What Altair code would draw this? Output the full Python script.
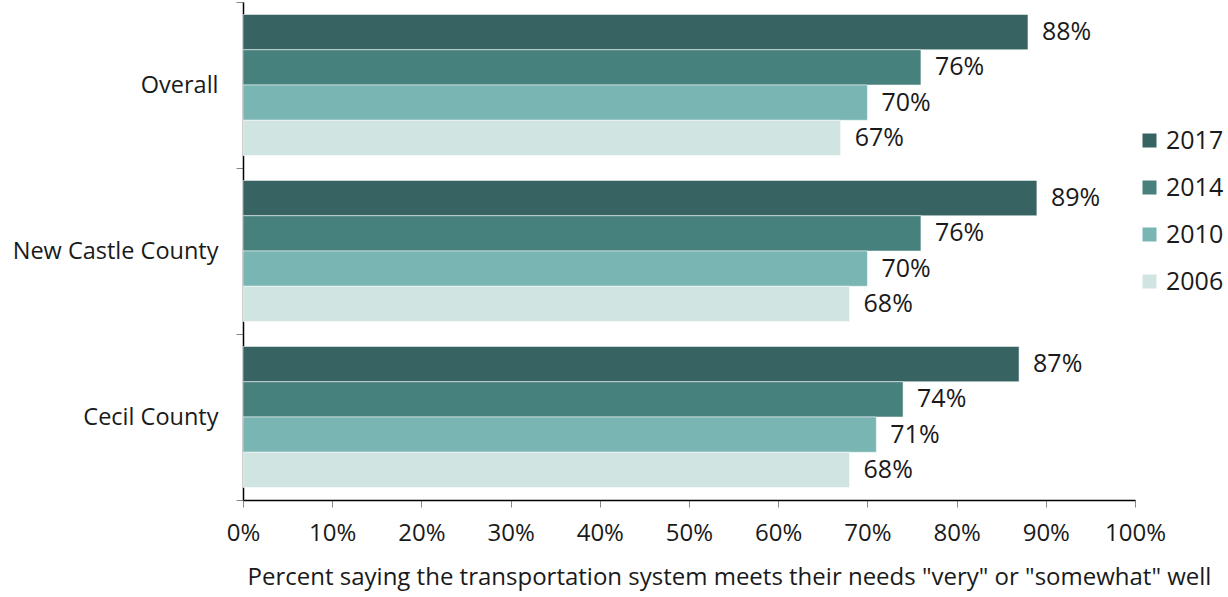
import altair as alt
import pandas as pd

categories = ["Overall", "New Castle County", "Cecil County"]
years = ["2017", "2014", "2010", "2006"]
values = {
    "Overall": [88, 76, 70, 67],
    "New Castle County": [89, 76, 70, 68],
    "Cecil County": [87, 74, 71, 68],
}
colors = ["#376462", "#47817e", "#78b5b3", "#d0e4e2"]

rows = []
for c in categories:
    for y, v in zip(years, values[c]):
        rows.append({"area": c, "year": y, "value": v, "label": f"{v}%"})
df = pd.DataFrame(rows)

FONT = "Open Sans"
TXT = "#1a1a1a"

base = alt.Chart(df).encode(
    y=alt.Y("area:N", sort=categories,
            scale=alt.Scale(paddingInner=0, paddingOuter=0),
            axis=alt.Axis(title=None, labelFontSize=23.5, labelFont=FONT, labelColor=TXT,
                          labelPadding=18, labelLimit=0, tickBand="extent", tickColor="#888888",
                          tickSize=7, domainColor="#000000", domainWidth=1.5)),
    yOffset=alt.YOffset("year:N", sort=years, scale=alt.Scale(paddingInner=0, paddingOuter=0.354)),
)

bars = base.mark_bar(stroke="white", strokeWidth=0.5).encode(
    x=alt.X("value:Q", scale=alt.Scale(domain=[0, 100], nice=False),
            axis=alt.Axis(values=list(range(0, 101, 10)), labelExpr="datum.value + '%'",
                          labelFontSize=24, labelFont=FONT, labelColor=TXT, labelPadding=14,
                          labelAlign="center", labelFlush=False,
                          tickColor="#888888", tickSize=7, domainColor="#000000", domainWidth=1.5,
                          grid=False,
                          title='Percent saying the transportation system meets their needs "very" or "somewhat" well',
                          titleFontSize=24, titleFont=FONT, titleFontWeight="normal", titleColor=TXT,
                          titleX=486, titleY=65, titleAlign="center")),
    color=alt.Color("year:N", sort=years, scale=alt.Scale(domain=years, range=colors),
                    legend=alt.Legend(title=None, orient="none", legendX=894, legendY=126,
                                      symbolType="square", symbolSize=196, symbolStrokeWidth=0,
                                      labelFontSize=25, labelFont=FONT, labelColor=TXT,
                                      rowPadding=21, labelOffset=4)),
)

labels = base.mark_text(align="left", baseline="middle", dx=14, fontSize=25, font=FONT,
                        color=TXT).encode(
    x=alt.X("value:Q"),
    text="label:N",
)

chart = (bars + labels).properties(
    width=892, height=498,
    background="white",
    autosize=alt.AutoSizeParams(type="none"),
    padding={"left": 243, "top": 2, "right": 93, "bottom": 97},
).configure_view(strokeWidth=0, stroke=None)

chart.save("out.html", embed_options={"renderer": "svg", "actions": False})
